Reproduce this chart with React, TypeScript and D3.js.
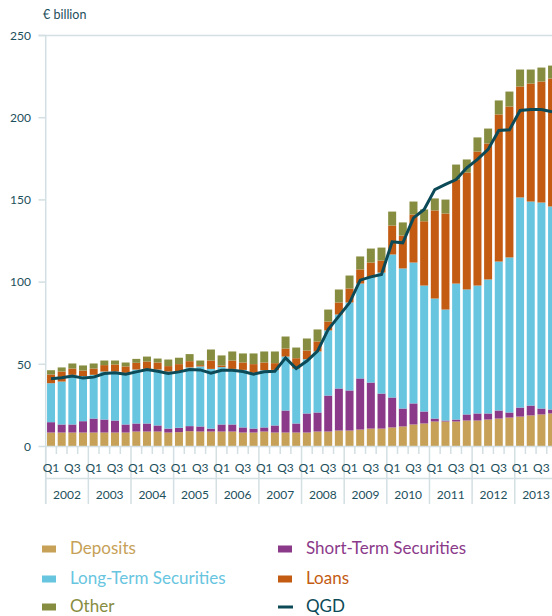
import React from "react";
import * as d3 from "d3";

const years = ["2002", "2003", "2004", "2005", "2006", "2007", "2008", "2009", "2010", "2011", "2012", "2013"];
const quarterNames = ["Q1", "Q2", "Q3", "Q4"];
const quarterLabels = ["Q1", "Q3"];
const yTicks = [0, 50, 100, 150, 200, 250];

const deposits = [8.5, 8.5, 8.5, 8.5, 8.5, 8.5, 8.5, 8.5, 9.1, 9.1, 9.1, 8.5, 8.7, 9.3, 9.1, 9.1, 9.1, 9.1, 8.5, 8.5, 9.1, 8.5, 8.5, 8.5, 8.5, 9.1, 9.1, 9.7, 9.7, 10.3, 10.9, 10.9, 11.6, 12.2, 13.4, 14.0, 15.2, 15.2, 15.2, 15.8, 15.8, 16.4, 17.0, 17.6, 18.2, 18.9, 19.5, 20.1];
const shortTerm = [6.3, 4.9, 4.9, 6.9, 8.5, 7.9, 7.3, 4.9, 4.9, 4.9, 3.7, 2.4, 2.7, 3.1, 3.1, 1.8, 4.3, 4.3, 3.1, 2.4, 2.5, 4.3, 13.4, 5.5, 11.6, 11.6, 21.9, 25.6, 24.4, 31.1, 28.0, 21.3, 18.2, 10.9, 12.8, 7.3, 1.8, 0.6, 1.2, 3.7, 4.3, 3.7, 4.9, 3.1, 5.5, 6.0, 3.6, 2.4];
const longTerm = [23.7, 26.1, 30.2, 27.4, 26.6, 29.2, 29.8, 31.4, 32.8, 33.2, 34.0, 34.7, 34.3, 35.7, 36.5, 36.3, 34.9, 33.8, 35.0, 33.9, 34.8, 33.8, 32.8, 33.4, 33.0, 37.1, 39.6, 45.0, 53.5, 57.7, 63.9, 73.6, 87.0, 85.2, 85.7, 76.6, 73.0, 67.5, 82.7, 76.0, 77.8, 81.5, 90.6, 94.3, 127.8, 124.1, 125.3, 123.5];
const loans = [5.3, 6.1, 3.8, 3.4, 3.8, 3.9, 4.3, 3.9, 4.1, 4.5, 4.3, 3.3, 4.4, 3.8, 0.8, 5.1, 1.0, 5.1, 4.5, 5.3, 4.7, 4.1, 4.9, 6.3, 5.3, 6.1, 5.4, 7.3, 8.5, 8.6, 9.1, 7.3, 17.6, 20.0, 29.2, 39.1, 53.6, 58.4, 63.3, 71.2, 81.5, 82.7, 89.5, 91.8, 67.5, 71.8, 73.6, 77.8];
const other = [2.6, 2.5, 3.1, 3.1, 3.1, 2.8, 2.4, 2.4, 2.4, 3.0, 2.4, 4.0, 3.9, 4.3, 2.8, 6.7, 6.1, 5.5, 5.5, 6.5, 6.7, 7.1, 7.3, 6.5, 7.3, 7.3, 7.3, 7.9, 7.9, 7.9, 8.5, 7.9, 8.5, 8.0, 7.9, 7.2, 7.3, 8.5, 9.1, 7.9, 8.6, 9.1, 8.5, 9.1, 10.3, 8.5, 8.5, 7.9];
const qgd = [41.2, 41.8, 42.8, 41.6, 42.2, 44.4, 44.8, 44.0, 45.4, 46.8, 45.8, 44.4, 45.4, 46.8, 46.6, 44.6, 46.4, 46.4, 45.6, 44.0, 45.4, 45.8, 53.9, 47.4, 52.0, 58.0, 71.2, 79.3, 87.4, 101.2, 103.2, 104.6, 124.5, 123.9, 139.1, 144.2, 156.3, 159.4, 162.4, 169.5, 174.6, 180.7, 192.2, 192.6, 204.4, 205.0, 205.0, 203.6];

const seriesKeys = ["deposits", "shortTerm", "longTerm", "loans", "other"];
const seriesNames = ["Deposits", "Short-Term Securities", "Long-Term Securities", "Loans", "Other"];
const seriesColors = ["#c6a157", "#8b3a8a", "#68c5df", "#c35b12", "#878d40"];
const qgdColor = "#0c4a57";
const axisColor = "#d3dfe3";
const textColor = "#1d4f5c";
const FONT = "Lato, 'Open Sans', sans-serif";

const W = 552;
const H = 616;

export default function App() {
  const quarters = years.flatMap((y) => quarterNames.map((q) => `${y} ${q}`));
  const table = quarters.map((q, i) => ({
    q,
    deposits: deposits[i],
    shortTerm: shortTerm[i],
    longTerm: longTerm[i],
    loans: loans[i],
    other: other[i],
  }));
  const stacked = d3.stack<any>().keys(seriesKeys)(table);

  const x = d3
    .scaleBand<string>()
    .domain(quarters)
    .range([45.7, 557.4])
    .paddingInner(0.25)
    .paddingOuter(0.125);
  const y = d3.scaleLinear().domain([0, 250]).range([446.5, 35.5]);
  const step = x.step();
  const x0 = 45.7;
  const axisY = y(0);

  const line = d3
    .line<number>()
    .x((_, i) => (x(quarters[i]) as number) + x.bandwidth() / 2)
    .y((d) => y(d));

  const legendItems = [
    { name: seriesNames[0], color: seriesColors[0], col: 0, row: 0, kind: "rect" },
    { name: seriesNames[2], color: seriesColors[2], col: 0, row: 1, kind: "rect" },
    { name: seriesNames[4], color: seriesColors[4], col: 0, row: 2, kind: "rect" },
    { name: seriesNames[1], color: seriesColors[1], col: 1, row: 0, kind: "rect" },
    { name: seriesNames[3], color: seriesColors[3], col: 1, row: 1, kind: "rect" },
    { name: "QGD", color: qgdColor, col: 1, row: 2, kind: "line" },
  ];
  const legendX = [42, 278];
  const legendY = [549, 579, 607];

  return (
    <svg
      width={W}
      height={H}
      style={{ position: "absolute", left: 0, top: 0, background: "#fff" }}
      fontFamily={FONT}
    >
      <text x={43} y={19} fontSize={12.5} fill={textColor}>
        € billion
      </text>

      <line x1={38.5} x2={W} y1={y(250)} y2={y(250)} stroke={axisColor} strokeWidth={1.5} />

      {stacked.map((s, si) => (
        <g key={s.key} fill={seriesColors[si]}>
          {s.map((d, i) => (
            <rect
              key={i}
              x={x(quarters[i])}
              width={x.bandwidth()}
              y={y(d[1])}
              height={Math.max(0, y(d[0]) - y(d[1]))}
            />
          ))}
        </g>
      ))}

      <path d={line(qgd) || ""} fill="none" stroke={qgdColor} strokeWidth={3} strokeLinejoin="miter" />

      <line x1={x0} x2={x0} y1={y(250)} y2={504} stroke={axisColor} strokeWidth={1.5} />
      {yTicks.map((t) => (
        <g key={t}>
          <line x1={38.5} x2={x0} y1={y(t)} y2={y(t)} stroke={axisColor} strokeWidth={1.5} />
          <text x={31} y={y(t)} dy="0.35em" textAnchor="end" fontSize={12} fill={textColor}>
            {t}
          </text>
        </g>
      ))}

      <line x1={x0} x2={W} y1={axisY} y2={axisY} stroke={axisColor} strokeWidth={1.5} />
      <line x1={x0} x2={W} y1={478.5} y2={478.5} stroke={axisColor} strokeWidth={1.5} />
      {quarters.map((q, i) => {
        const bx = x0 + i * step;
        const isYear = i % 4 === 0;
        return (
          <line
            key={q}
            x1={bx}
            x2={bx}
            y1={axisY}
            y2={isYear ? 504 : 454}
            stroke={axisColor}
            strokeWidth={1.5}
          />
        );
      })}
      {years.map((yr) =>
        quarterLabels.map((ql) => {
          const key = `${yr} ${ql}`;
          return (
            <text
              key={key}
              x={(x(key) as number) + x.bandwidth() / 2}
              y={468}
              dy="0.35em"
              textAnchor="middle"
              fontSize={12}
              fill={textColor}
            >
              {ql}
            </text>
          );
        })
      )}
      {years.map((yr) => {
        const a = x(`${yr} Q1`) as number;
        const b = (x(`${yr} Q4`) as number) + x.bandwidth();
        return (
          <text
            key={yr}
            x={(a + b) / 2}
            y={495}
            dy="0.35em"
            textAnchor="middle"
            fontSize={12}
            fill={textColor}
          >
            {yr}
          </text>
        );
      })}

      {legendItems.map((it) => {
        const lx = legendX[it.col];
        const ly = legendY[it.row];
        return (
          <g key={it.name}>
            {it.kind === "rect" ? (
              <rect x={lx} y={ly - 3.5} width={14} height={7} fill={it.color} />
            ) : (
              <line x1={lx} x2={lx + 15} y1={ly} y2={ly} stroke={it.color} strokeWidth={3} />
            )}
            <text x={lx + 28} y={ly - 1} dy="0.35em" fontSize={17} fill={it.color}>
              {it.name}
            </text>
          </g>
        );
      })}
    </svg>
  );
}
